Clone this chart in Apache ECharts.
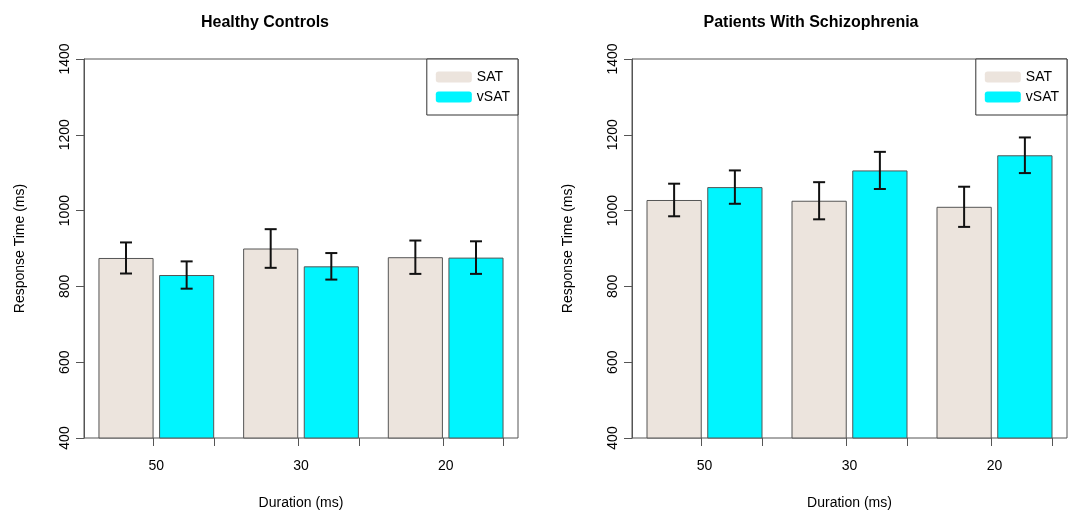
<!DOCTYPE html>
<html>
<head>
<meta charset="utf-8">
<script src="https://cdn.jsdelivr.net/npm/echarts@6/dist/echarts.min.js"></script>
<style>
  html, body { margin: 0; padding: 0; background: #fff; }
  #chart { width: 1072px; height: 512px; }
</style>
</head>
<body>
<div id="chart"></div>
<script>
// durations (ms)
const categories = ['50', '30', '20'];
const seriesNames = ['SAT', 'vSAT'];
const yTicks = [400, 600, 800, 1000, 1200, 1400];

// healthy controls: mean response time and error
const hcSat = [875, 900, 877];
const hcVsat = [830, 853, 876];
const hcSatErr = [41, 51, 44];
const hcVsatErr = [36, 35, 43];

// patients with schizophrenia
const szSat = [1028, 1026, 1010];
const szVsat = [1062, 1106, 1146];
const szSatErr = [43, 49, 53];
const szVsatErr = [44, 49, 47];

const colors = ['#ECE4DD', '#00F5FF'];
const font = 'Liberation Sans, Arial, sans-serif';
const BAR_GAP = '10%';
const CAT_GAP = '20%';

// x ticks at the right edge of every bar (in category-band units)
const barW = 0.8 / 2.1;
const edgeTicks = [];
categories.forEach((c, i) => {
  edgeTicks.push(i + 0.1 + barW);
  edgeTicks.push(i + 0.9);
});

const chart = echarts.init(document.getElementById('chart'));

function errorBars(k) {
  return function (params, api) {
    const idx = api.value(0);
    const lo = api.coord([idx, api.value(1)]);
    const hi = api.coord([idx, api.value(2)]);
    const layout = api.barLayout({ barGap: BAR_GAP, barCategoryGap: CAT_GAP, count: 2 });
    const x = lo[0] + layout[k].offsetCenter;
    const half = 6;
    const style = { stroke: '#111', lineWidth: 2 };
    return {
      type: 'group',
      children: [
        { type: 'line', shape: { x1: x, y1: lo[1], x2: x, y2: hi[1] }, style },
        { type: 'line', shape: { x1: x - half, y1: hi[1], x2: x + half, y2: hi[1] }, style },
        { type: 'line', shape: { x1: x - half, y1: lo[1], x2: x + half, y2: lo[1] }, style }
      ]
    };
  };
}

function errData(means, errs) {
  return means.map((m, i) => [i, m - errs[i], m + errs[i]]);
}

const panels = [
  { title: 'Healthy Controls', titleX: 260, left: 84, width: 434, sat: hcSat, vsat: hcVsat, satErr: hcSatErr, vsatErr: hcVsatErr },
  { title: 'Patients With Schizophrenia', titleX: 806, left: 632, width: 435, sat: szSat, vsat: szVsat, satErr: szSatErr, vsatErr: szVsatErr }
];

const option = {
  backgroundColor: '#fff',
  animation: false,
  textStyle: { fontFamily: font },
  title: [],
  legend: [],
  grid: [],
  xAxis: [],
  yAxis: [],
  series: []
};

panels.forEach((p, g) => {
  option.title.push({
    text: p.title, left: p.titleX, top: 10, textAlign: 'center',
    textStyle: { fontFamily: font, fontSize: 16, fontWeight: 'bold', color: '#000' }
  });
  option.grid.push({
    left: p.left, top: 59, width: p.width, height: 379,
    outerBoundsMode: 'none', containLabel: false,
    show: true, borderColor: '#555', borderWidth: 1, backgroundColor: 'transparent'
  });
  option.legend.push({
    data: seriesNames,
    orient: 'vertical',
    right: 1072 - (p.left + p.width),
    top: 59,
    padding: [11, 8, 11, 9],
    itemGap: 6,
    itemWidth: 36,
    itemHeight: 11,
    icon: 'roundRect',
    borderColor: '#333',
    borderWidth: 1,
    backgroundColor: '#fff',
    itemStyle: { borderWidth: 0 },
    textStyle: { fontFamily: font, fontSize: 14, color: '#000', lineHeight: 13 }
  });
  // category axis with the duration labels
  option.xAxis.push({
    type: 'category', gridIndex: g, data: categories,
    name: 'Duration (ms)', nameLocation: 'middle', nameGap: 58,
    nameTextStyle: { fontFamily: font, fontSize: 14, color: '#000' },
    axisLine: { show: false },
    axisTick: { show: false },
    axisLabel: { margin: 21, fontFamily: font, fontSize: 14, color: '#000' }
  });
  // helper axis carrying the ticks at the bar edges
  option.xAxis.push({
    type: 'value', gridIndex: g, min: 0, max: categories.length, position: 'bottom', offset: 0,
    axisLine: { show: false },
    axisLabel: { show: false },
    splitLine: { show: false },
    axisTick: { show: true, length: 8, customValues: edgeTicks, lineStyle: { color: '#555', width: 1 } }
  });
  option.yAxis.push({
    type: 'value', gridIndex: g, min: yTicks[0], max: yTicks[yTicks.length - 1], interval: 200,
    name: 'Response Time (ms)', nameLocation: 'middle', nameGap: 57,
    nameTextStyle: { fontFamily: font, fontSize: 14, color: '#000' },
    axisLine: { show: true, lineStyle: { color: '#555', width: 1 } },
    axisTick: { show: true, length: 8, lineStyle: { color: '#555' } },
    axisLabel: { rotate: 90, margin: 12, fontFamily: font, fontSize: 14, color: '#000', formatter: v => String(v) },
    splitLine: { show: false }
  });
  const xi = g * 2;
  [p.sat, p.vsat].forEach((vals, k) => {
    option.series.push({
      name: seriesNames[k], type: 'bar', xAxisIndex: xi, yAxisIndex: g,
      data: vals, barGap: BAR_GAP, barCategoryGap: CAT_GAP,
      itemStyle: { color: colors[k], borderColor: '#555', borderWidth: 1 }
    });
  });
  [[p.sat, p.satErr], [p.vsat, p.vsatErr]].forEach((pair, k) => {
    option.series.push({
      type: 'custom', xAxisIndex: xi, yAxisIndex: g, z: 10,
      renderItem: errorBars(k),
      encode: { x: 0, y: [1, 2] },
      data: errData(pair[0], pair[1])
    });
  });
});

chart.setOption(option);
</script>
</body>
</html>
